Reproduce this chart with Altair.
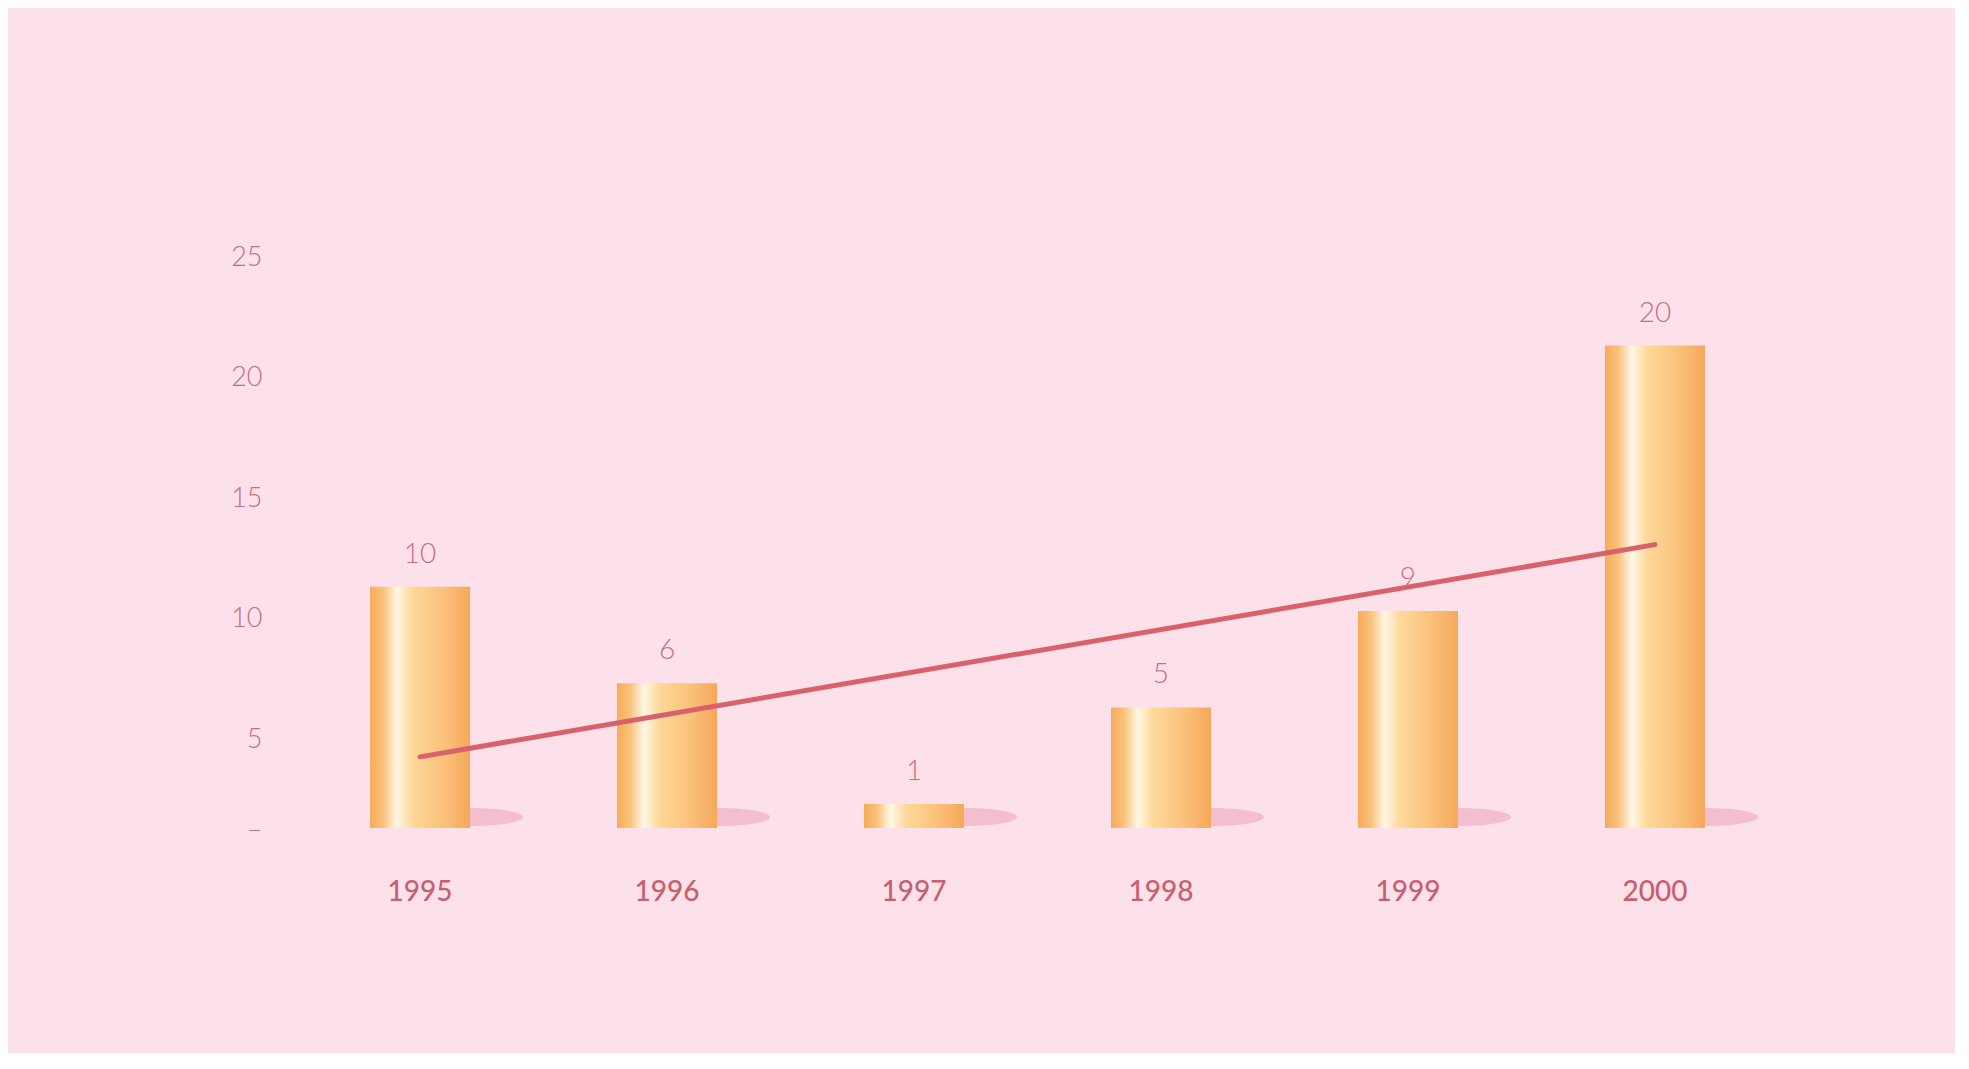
import altair as alt
import pandas as pd

# ---- data ----
years = ["1995", "1996", "1997", "1998", "1999", "2000"]
values = [10, 6, 1, 5, 9, 20]
trend_years = ["1995", "2000"]
trend_values = [2.95, 11.75]
y_ticks = [0, 5, 10, 15, 20, 25]

bars_df = pd.DataFrame({"year": years, "value": values})
trend_df = pd.DataFrame({"year": trend_years, "trend": trend_values})

BG = "#fce0ea"
LABEL_COLOR = "#c4707f"
YEAR_COLOR = "#c85f6e"
LINE_COLOR = "#d8616b"
SHADOW = "#f3bfcd"
FONT = "Lato"

x_enc = alt.X(
    "year:N",
    sort=years,
    scale=alt.Scale(paddingInner=0.595, paddingOuter=0.405),
    axis=alt.Axis(
        title=None, labelAngle=0, ticks=False, domain=False,
        labelFont=FONT, labelFontSize=28, labelFontWeight=500,
        labelColor=YEAR_COLOR, labelPadding=50,
    ),
)

y_scale = alt.Scale(domain=[0, 25], nice=False, zero=True)

gradient = alt.LinearGradient(
    gradient="linear",
    x1=0, x2=1, y1=0, y2=0,
    stops=[
        alt.GradientStop(color="#f6ab5a", offset=0.0),
        alt.GradientStop(color="#f9c27a", offset=0.13),
        alt.GradientStop(color="#fff7e6", offset=0.27),
        alt.GradientStop(color="#fdd99a", offset=0.42),
        alt.GradientStop(color="#fbc27c", offset=0.72),
        alt.GradientStop(color="#f5a85a", offset=1.0),
    ],
)

ellipse = (
    "M -0.02 -0.21 "
    "C -0.02 -0.3055 0.428 -0.383 0.98 -0.383 "
    "C 1.532 -0.383 1.98 -0.3055 1.98 -0.21 "
    "C 1.98 -0.1145 1.532 -0.037 0.98 -0.037 "
    "C 0.428 -0.037 -0.02 -0.1145 -0.02 -0.21 Z"
)

base = alt.Chart(bars_df)

shadows = base.mark_point(
    shape=ellipse, size=10816, filled=True, color=SHADOW, opacity=1, strokeWidth=0
).encode(
    x=x_enc,
    y=alt.Y(datum=0, scale=y_scale),
)

bars = base.mark_bar(color=gradient).encode(
    x=x_enc,
    y=alt.Y(
        "value:Q",
        scale=y_scale,
        axis=alt.Axis(
            title=None, values=y_ticks, ticks=False, domain=False, grid=False,
            labelFont=FONT, labelFontSize=27, labelFontWeight=300,
            labelColor=LABEL_COLOR, labelPadding=8,
            labelExpr="datum.value == 0 ? '–' : datum.label",
            labelOffset={"condition": {"test": "datum.value == 0", "value": 2}, "value": 32},
        ),
    ),
)

value_labels = base.mark_text(
    dy=-32, baseline="middle", font=FONT, fontSize=28, fontWeight=300, color=LABEL_COLOR
).encode(
    x=x_enc,
    y=alt.Y("value:Q", scale=y_scale),
    text="value:Q",
)

trend = alt.Chart(trend_df).mark_line(
    color=LINE_COLOR, strokeWidth=5, strokeCap="round"
).encode(
    x=x_enc,
    y=alt.Y("trend:Q", scale=y_scale),
)

chart = (
    alt.layer(shadows, bars, trend, value_labels)
    .properties(
        width=1535,
        height=603,
        autosize=alt.AutoSizeParams(type="none"),
        padding={"left": 262, "top": 217, "right": 150, "bottom": 225},
        background=BG,
    )
    .configure_view(stroke=None)
)

chart.save("out.html", embed_options={"renderer": "svg", "actions": False})
